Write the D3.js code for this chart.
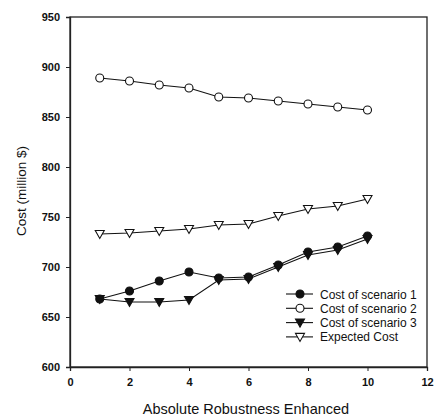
<!DOCTYPE html>
<html lang="en">
<head>
<meta charset="UTF-8">
<title>Cost vs Absolute Robustness Enhanced</title>
<script src="https://d3js.org/d3.v7.min.js"></script>
<style>
  body { margin: 0; background: #fff; }
  svg text { font-family: "Liberation Sans", Arial, sans-serif; fill: #111; }
</style>
</head>
<body>
<div id="chart"></div>
<script>
// data
const steps = [1, 2, 3, 4, 5, 6, 7, 8, 9, 10];
const scenario1 = [668, 676, 686, 695, 689, 690, 702, 715, 720, 731];
const scenario2 = [889, 886, 882, 879, 870, 869, 866, 863, 860, 857];
const scenario3 = [668, 665, 665, 667, 687, 688, 700, 712, 717, 728];
const expected  = [733, 734, 736, 738, 742, 743, 751, 758, 761, 768];
const seriesNames = ["Cost of scenario 1", "Cost of scenario 2", "Cost of scenario 3", "Expected Cost"];
const xTicks = [0, 2, 4, 6, 8, 10, 12];
const yTicks = [600, 650, 700, 750, 800, 850, 900, 950];

const W = 436, H = 416;
const margin = {top: 17, right: 9, bottom: 49, left: 70};
const width = W - margin.left - margin.right;
const height = H - margin.top - margin.bottom;

const svg = d3.select("#chart").append("svg")
    .attr("width", W)
    .attr("height", H);

const g = svg.append("g")
    .attr("transform", `translate(${margin.left},${margin.top})`);

const x = d3.scaleLinear().domain([0, 12]).range([0, width]);
const y = d3.scaleLinear().domain([600, 950]).range([height, 0]);

// frame
g.append("rect")
    .attr("width", width)
    .attr("height", height)
    .attr("fill", "none")
    .attr("stroke", "#222")
    .attr("stroke-width", 1.3);

// axes
const xAxis = g.append("g")
    .attr("transform", `translate(0,${height})`)
    .call(d3.axisBottom(x).tickValues(xTicks).tickSize(4).tickPadding(7));
const yAxis = g.append("g")
    .call(d3.axisLeft(y).tickValues(yTicks).tickSize(4).tickPadding(6));

[xAxis, yAxis].forEach(a => {
    a.select(".domain").attr("stroke", "#222").attr("stroke-width", 1.3);
    a.selectAll(".tick line").attr("stroke", "#222");
    a.selectAll("text")
        .attr("font-size", 11)
        .attr("font-weight", "bold")
        .attr("font-family", "Liberation Sans, Arial, sans-serif")
        .attr("fill", "#111");
});

// axis titles
svg.append("text")
    .attr("x", 246)
    .attr("y", 414)
    .attr("text-anchor", "middle")
    .attr("font-size", 14.5)
    .text("Absolute Robustness Enhanced");

svg.append("text")
    .attr("transform", "translate(26,191) rotate(-90)")
    .attr("text-anchor", "middle")
    .attr("font-size", 13.5)
    .text("Cost (million $)");

// series
const series = [
    {name: seriesNames[0], values: scenario1, shape: "circle", fill: "#111"},
    {name: seriesNames[1], values: scenario2, shape: "circle", fill: "#fff"},
    {name: seriesNames[2], values: scenario3, shape: "tri", fill: "#111"},
    {name: seriesNames[3], values: expected, shape: "tri", fill: "#fff"}
];

const line = d3.line()
    .x((d, i) => x(steps[i]))
    .y(d => y(d));

const triPath = "M-4.5,-3.5L4.5,-3.5L0,4.5Z";

function drawMarker(sel, s) {
    if (s.shape === "circle") {
        sel.append("circle").attr("r", 4);
    } else {
        sel.append("path").attr("d", triPath);
    }
    sel.selectAll("circle, path")
        .attr("fill", s.fill)
        .attr("stroke", "#111")
        .attr("stroke-width", 1.1);
}

series.forEach(s => {
    g.append("path")
        .datum(s.values)
        .attr("fill", "none")
        .attr("stroke", "#111")
        .attr("stroke-width", 1.1)
        .attr("d", line);
});

series.forEach(s => {
    g.selectAll(null)
        .data(s.values)
        .enter()
        .append("g")
        .attr("transform", (d, i) => `translate(${x(steps[i])},${y(d)})`)
        .each(function() { drawMarker(d3.select(this), s); });
});

// legend
const legend = svg.append("g").attr("transform", "translate(286,294)");
series.forEach((s, i) => {
    const row = legend.append("g").attr("transform", `translate(0,${i * 14.3})`);
    row.append("line")
        .attr("x1", 0).attr("x2", 27)
        .attr("stroke", "#111")
        .attr("stroke-width", 1.1);
    const m = row.append("g").attr("transform", "translate(14,0)");
    drawMarker(m, s);
    row.append("text")
        .attr("x", 34)
        .attr("y", 4.5)
        .attr("font-size", 12)
        .text(s.name);
});
</script>
</body>
</html>
